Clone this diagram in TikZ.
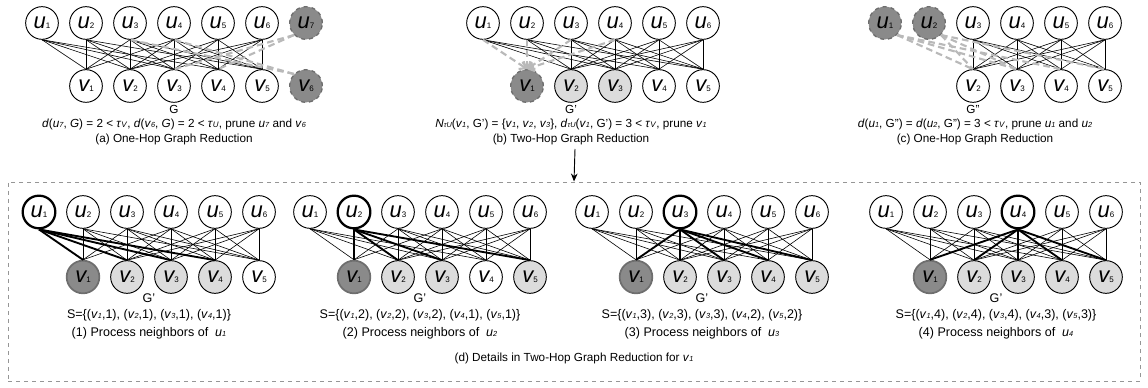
\documentclass[tikz,border=0pt]{standalone}
\usepackage{fontspec}
\setmainfont{Liberation Sans}
\usepackage{graphicx}
\usetikzlibrary{arrows.meta}

\definecolor{darkfill}{RGB}{138,138,138}
\definecolor{darkline}{RGB}{110,110,110}
\definecolor{lightfill}{RGB}{220,220,220}
\definecolor{cutgray}{RGB}{185,185,185}
\definecolor{boxgray}{RGB}{150,150,150}

% vertex label: big italic letter, tiny index
\newcommand\nd[2]{{\fontsize{16.5}{16.5}\selectfont\itshape #1}{\fontsize{6}{6}\selectfont #2}}
% variable with index inside running text
\newcommand\vr[2]{\textit{#1}{\fontsize{5.5}{5.5}\selectfont\textit{#2}}}
\newcommand\tauV{\textit{τ}{\fontsize{6}{6}\selectfont\textit{V}}}
\newcommand\tauU{\textit{τ}{\fontsize{6}{6}\selectfont\textit{U}}}

% edge list of G': u-index / v-index
\def\Gedges{1/1,1/2,1/3,1/4,2/1,2/2,2/3,2/5,3/1,3/2,3/3,3/4,3/5,4/1,4/2,4/3,4/4,4/5,5/2,5/3,5/4,5/5,6/2,6/3,6/4,6/5}

\tikzset{
  vtx/.style={circle,draw,line width=0.7pt,minimum size=24.5pt,inner sep=0pt,fill=white},
  pruned/.style={vtx,fill=darkfill,draw=darkline,dashed,line width=1pt},
  seed/.style={vtx,fill=darkfill,draw=darkline,line width=1.3pt},
  marked/.style={vtx,fill=lightfill},
  current/.style={vtx,line width=1.7pt},
  edge/.style={line width=0.45pt},
  hot/.style={line width=1.4pt},
  cut/.style={draw=cutgray,line width=1.6pt,dash pattern=on 5pt off 3pt},
  txt/.style={inner sep=0pt,font=\fontsize{8.8}{10}\selectfont},
  dtxt/.style={inner sep=0pt,font=\fontsize{9.4}{11}\selectfont},
}

\begin{document}
\begin{tikzpicture}[x=0.75pt,y=-0.75pt]
\useasboundingbox (0,0) rectangle (1148,388);

% ---------- (a) one-hop reduction on G ----------
\foreach \i in {1,...,6} \node[vtx] (a-u\i) at ({42+44*(\i-1)},23) {\nd{u}{\i}};
\node[pruned] (a-u7) at ({42+44*6},23) {\nd{u}{7}};
\foreach \j in {1,...,5} \node[vtx] (a-v\j) at ({42+44*\j},86) {\nd{v}{\j}};
\node[pruned] (a-v6) at ({42+44*6},86) {\nd{v}{6}};
\foreach \i/\j in \Gedges \draw[edge] (a-u\i.south) -- (a-v\j.north);
\draw[cut] (a-u7.south west) -- (a-v3.north);
\draw[cut] (a-u7.south west) -- (a-v4.north);
\draw[cut] (a-v6.north west) -- (a-u3.south);
\draw[cut] (a-v6.north west) -- (a-u4.south);
\node[txt] (a-g) at (174,109) {G};
\node[txt] (a-t) at (174,124) {\textit{d}(\vr{u}{7}, \textit{G}) = 2 {<} \tauV, \textit{d}(\vr{v}{6}, \textit{G}) = 2 {<} \tauU, prune \vr{u}{7} and \vr{v}{6}};
\node[txt] (a-c) at (174,139) {(a) One-Hop Graph Reduction};

% ---------- (b) two-hop reduction on G' ----------
\foreach \i in {1,...,6} \node[vtx] (b-u\i) at ({483+44*(\i-1)},23) {\nd{u}{\i}};
\node[pruned] (b-v1) at ({483+44},86) {\nd{v}{1}};
\node[marked] (b-v2) at ({483+44*2},86) {\nd{v}{2}};
\node[marked] (b-v3) at ({483+44*3},86) {\nd{v}{3}};
\node[vtx] (b-v4) at ({483+44*4},86) {\nd{v}{4}};
\node[vtx] (b-v5) at ({483+44*5},86) {\nd{v}{5}};
\foreach \i/\j in \Gedges {
  \ifnum\j>1 \draw[edge] (b-u\i.south) -- (b-v\j.north); \fi
}
\foreach \i in {1,...,4} \draw[cut,-{Straight Barb[length=4pt,width=7pt]}] (b-u\i.south) -- (b-v1.north);
\node[txt] (b-g) at (571,109) {G'};
\node[txt] (b-t) at (571,124) {\textit{N}{\fontsize{5.5}{5.5}\selectfont\textit{τU}}(\vr{v}{1}, G') = \{\vr{v}{1}, \vr{v}{2}, \vr{v}{3}\}, \textit{d}{\fontsize{5.5}{5.5}\selectfont\textit{τU}}(\vr{v}{1}, G') = 3 {<} \tauV, prune \vr{v}{1}};
\node[txt] (b-c) at (571,139) {(b) Two-Hop Graph Reduction};

% ---------- (c) one-hop reduction on G'' ----------
\node[pruned] (c-u1) at (885,23) {\nd{u}{1}};
\node[pruned] (c-u2) at ({885+44},23) {\nd{u}{2}};
\foreach \i in {3,...,6} \node[vtx] (c-u\i) at ({885+44*(\i-1)},23) {\nd{u}{\i}};
\foreach \j in {2,...,5} \node[vtx] (c-v\j) at ({885+44*\j},86) {\nd{v}{\j}};
\foreach \i/\j in \Gedges {
  \ifnum\j>1 \ifnum\i>2 \draw[edge] (c-u\i.south) -- (c-v\j.north); \fi\fi
}
\foreach \i/\j in {1/2,1/3,1/4,2/2,2/3,2/5} \draw[cut] (c-u\i.south east) -- (c-v\j.north);
\node[txt] (c-g) at (973,109) {G''};
\node[txt] (c-t) at (975,124) {\textit{d}(\vr{u}{1}, G'') = \textit{d}(\vr{u}{2}, G'') = 3 {<} \tauV, prune \vr{u}{1} and \vr{u}{2}};
\node[txt] (c-c) at (975,139) {(c) One-Hop Graph Reduction};

% ---------- (d) details of the two-hop step ----------
\node[draw=boxgray,dashed,line width=0.7pt,minimum width=849pt,minimum height=149.25pt,inner sep=0pt] (dbox) at (574,281.5) {};
\coordinate (arr) at (575,149);
\draw[-{Stealth[length=6pt,width=5pt]},line width=0.7pt] (arr) -- (dbox.north);

\foreach \k/\x/\cnt/\white in {1/39/{(\vr{v}{1},1), (\vr{v}{2},1), (\vr{v}{3},1), (\vr{v}{4},1)}/5,
                       2/310/{(\vr{v}{1},2), (\vr{v}{2},2), (\vr{v}{3},2), (\vr{v}{4},1), (\vr{v}{5},1)}/4,
                       3/592/{(\vr{v}{1},3), (\vr{v}{2},3), (\vr{v}{3},3), (\vr{v}{4},2), (\vr{v}{5},2)}/0,
                       4/886/{(\vr{v}{1},4), (\vr{v}{2},4), (\vr{v}{3},4), (\vr{v}{4},3), (\vr{v}{5},3)}/0} {
  \foreach \i in {1,...,6} {
    \ifnum\i=\k
      \node[current] (d\k-u\i) at ({\x+44*(\i-1)},212) {\nd{u}{\i}};
    \else
      \node[vtx] (d\k-u\i) at ({\x+44*(\i-1)},212) {\nd{u}{\i}};
    \fi
  }
  \node[seed] (d\k-v1) at ({\x+44},277) {\nd{v}{1}};
  \foreach \j in {2,...,5} {
    \ifnum\j=\white
      \node[vtx] (d\k-v\j) at ({\x+44*\j},277) {\nd{v}{\j}};
    \else
      \node[marked] (d\k-v\j) at ({\x+44*\j},277) {\nd{v}{\j}};
    \fi
  }
  \foreach \i/\j in \Gedges {
    \ifnum\i=\k \draw[hot] (d\k-u\i.south) -- (d\k-v\j.north);
    \else \draw[edge] (d\k-u\i.south) -- (d\k-v\j.north); \fi
  }
  \node[dtxt] (d\k-g) at ({\x+110},298) {G'};
  \node[dtxt] (d\k-s) at ({\x+110},315) {S=\{\cnt\}};
  \node[dtxt] (d\k-c) at ({\x+110},333) {(\k) Process neighbors of~~\vr{u}{\k}};
}
\node[txt] (d-c) at (574,358) {(d) Details in Two-Hop Graph Reduction for \vr{v}{1}};
\end{tikzpicture}
\end{document}
